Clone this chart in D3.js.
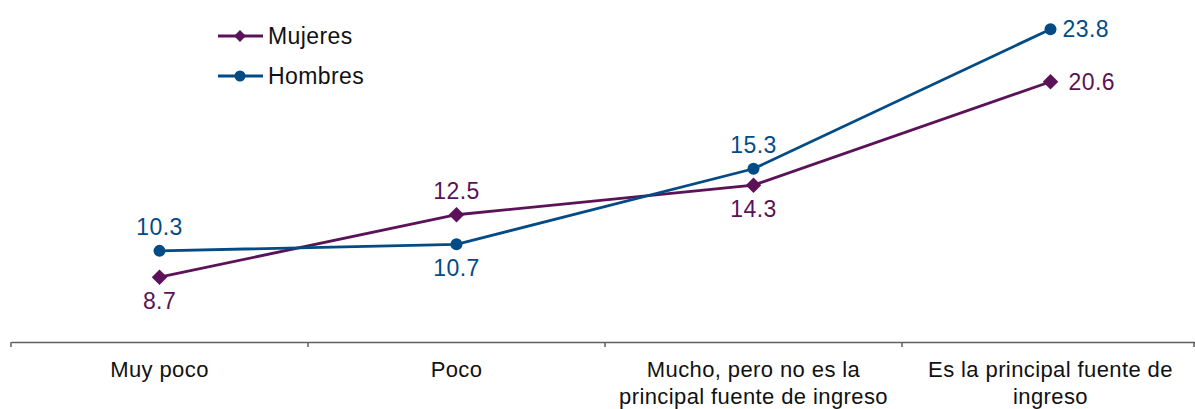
<!DOCTYPE html>
<html><head><meta charset="utf-8">
<script src="https://cdn.jsdelivr.net/npm/d3@7"></script>
<style>body{margin:0;background:#fff;}svg{display:block;font-family:"Liberation Sans",Arial,sans-serif;}</style>
</head><body><svg id="c" width="1195" height="409"></svg>
<script>
const categories = [["Muy poco"],["Poco"],["Mucho, pero no es la","principal fuente de ingreso"],["Es la principal fuente de","ingreso"]];
const seriesNames = ["Mujeres","Hombres"];
const mujeres = [8.7, 12.5, 14.3, 20.6];
const hombres = [10.3, 10.7, 15.3, 23.8];
const colors = ["#5b1258","#034b85"];
// label placement: "above","below","right"
const placeM = ["below","above","below","right"];
const placeH = ["above","below","above","right"];

const svg = d3.select("#c");
const x = d3.scaleBand().domain(d3.range(categories.length)).range([11,1199]);
const y = d3.scaleLinear().domain([4.75,25]).range([342,9.5]);

// axis
const ax = d3.axisBottom(x).tickSize(0).tickFormat("");
const g = svg.append("g").attr("transform","translate(0,342)").call(ax);
g.select(".domain").attr("stroke","#5f5f5f").attr("stroke-width",1.5);
const bounds = [11].concat(d3.range(categories.length).map(i=>x(i)+x.bandwidth()));
g.selectAll(".tk").data(bounds).enter().append("line")
 .attr("x1",d=>Math.min(d,1194)).attr("x2",d=>Math.min(d,1194)).attr("y1",0).attr("y2",5)
 .attr("stroke","#5f5f5f").attr("stroke-width",1.5);
categories.forEach((lines,i)=>{
  const t = svg.append("text").attr("text-anchor","middle").attr("font-size",22).attr("letter-spacing","0.4px").attr("fill","#111");
  lines.forEach((l,j)=>t.append("tspan").attr("x",x(i)+x.bandwidth()/2).attr("y",377+j*27).text(l));
});

const cx = i => x(i)+x.bandwidth()/2;
const line = d3.line().x((d,i)=>cx(i)).y(d=>y(d));
const data = [mujeres,hombres];
const places = [placeM,placeH];
data.forEach((vals,s)=>{
  svg.append("path").attr("d",line(vals)).attr("fill","none").attr("stroke",colors[s]).attr("stroke-width",2.8);
  vals.forEach((v,i)=>{
    if(s===0){
      svg.append("path").attr("d",d3.symbol(d3.symbolSquare,120)())
        .attr("transform",`translate(${cx(i)},${y(v)}) rotate(45)`).attr("fill",colors[s]);
    } else {
      svg.append("circle").attr("cx",cx(i)).attr("cy",y(v)).attr("r",6).attr("fill",colors[s]);
    }
    const p = places[s][i];
    const t = svg.append("text").attr("font-size",23).attr("letter-spacing","0.4px").attr("fill",colors[s]).text(v.toFixed(1));
    if(p==="above") t.attr("x",cx(i)).attr("y",y(v)-16).attr("text-anchor","middle");
    else if(p==="below") t.attr("x",cx(i)).attr("y",y(v)+32).attr("text-anchor","middle");
    else t.attr("x",cx(i)+(s===0?18:12)).attr("y",y(v)+8).attr("text-anchor","start");
  });
});

// legend
seriesNames.forEach((n,s)=>{
  const ly = 36 + s*40;
  svg.append("line").attr("x1",218).attr("x2",263).attr("y1",ly).attr("y2",ly).attr("stroke",colors[s]).attr("stroke-width",2.8);
  if(s===0) svg.append("path").attr("d",d3.symbol(d3.symbolSquare,70)()).attr("transform",`translate(240,${ly}) rotate(45)`).attr("fill",colors[s]);
  else svg.append("circle").attr("cx",240).attr("cy",ly).attr("r",5.5).attr("fill",colors[s]);
  svg.append("text").attr("x",268).attr("y",ly+8).attr("font-size",23).attr("letter-spacing","0.4px").attr("fill","#111").text(n);
});
</script></body></html>
